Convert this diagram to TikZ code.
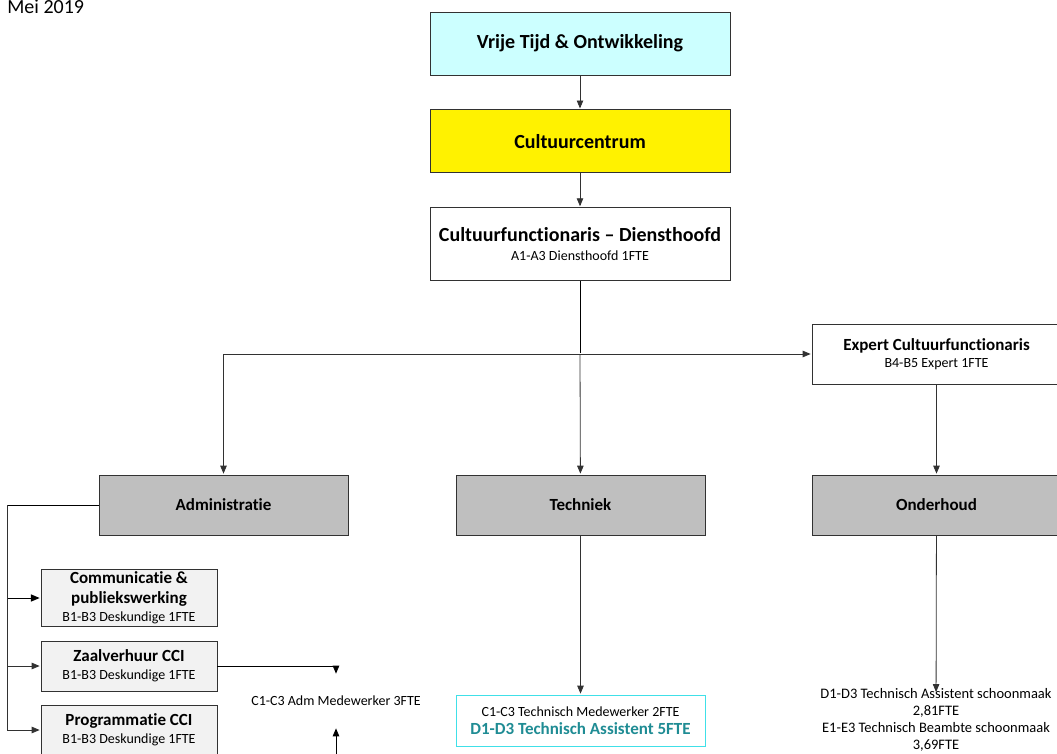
\documentclass[tikz,border=0pt]{standalone}
\usepackage{fontspec}
\setmainfont{Carlito}[Ligatures=NoCommon]
\usepackage{tikz}
\usetikzlibrary{positioning}
\usetikzlibrary{arrows}

\definecolor{lightcyan}{RGB}{204,255,255}
\definecolor{boxgray}{RGB}{191,191,191}
\definecolor{subgray}{RGB}{242,242,242}
\definecolor{brightcyan}{RGB}{64,224,232}
\definecolor{tealtext}{RGB}{31,140,148}
\definecolor{linegray}{RGB}{50,50,50}

\newcommand{\sublabel}[1]{{\fontsize{14}{17}\selectfont\mdseries #1}}

\tikzset{
  box/.style={draw=linegray, line width=0.8pt, align=center, inner sep=2pt},
  topbox/.style={box, minimum width=300pt, minimum height=63pt, font=\fontsize{20}{22}\selectfont\bfseries},
  unitbox/.style={box, fill=boxgray, minimum width=249pt, minimum height=60pt, font=\fontsize{17}{19}\selectfont\bfseries},
  subbox/.style={box, fill=subgray, minimum width=176pt, font=\fontsize{17}{20}\selectfont\bfseries},
  staff/.style={font=\fontsize{14}{17}\selectfont},
}

\begin{document}
\begin{tikzpicture}[x=1pt,y=-1pt,->,>=triangle 45,shorten >=1pt,
                    line width=0.8pt,draw=linegray]
   \clip (0,0) rectangle (1057,754);
   \useasboundingbox (0,0) rectangle (1057,754);
   \node[anchor=base west,inner sep=0pt,font=\fontsize{20}{22}\selectfont] (date) at (7,14) {Mei 2019};
   % top of the chart
   \node[topbox,fill=lightcyan] (vt) at (580,43.5) {Vrije Tijd \& Ontwikkeling};
   \node[topbox,fill=yellow] (cc) [below=34pt of vt] {Cultuurcentrum};
   \node[topbox,fill=white,minimum height=73pt] (cf) [below=34pt of cc]
        {Cultuurfunctionaris -- Diensthoofd\\[-3pt]\sublabel{A1-A3 Diensthoofd 1FTE}};
   \node[unitbox,fill=white] (expert) at (936.5,354)
        {Expert Cultuurfunctionaris\\[-2pt]\sublabel{B4-B5 Expert 1FTE}};
   % units
   \node[unitbox] (admin) at (223.5,505) {Administratie};
   \node[unitbox] (tech) at (580.5,505) {Techniek};
   \node[unitbox] (onderhoud) at (936.5,505) {Onderhoud};
   % administration
   \node[subbox,minimum height=56pt] (comm) at (129,598)
        {Communicatie \&\\publiekswerking\\[-2pt]\sublabel{B1-B3 Deskundige 1FTE}};
   \node[subbox,minimum height=50pt] (zaal) at (129,666)
        {Zaalverhuur CCI\\[-2pt]\sublabel{B1-B3 Deskundige 1FTE}};
   \node[subbox,minimum height=50pt] (prog) at (129,730)
        {Programmatie CCI\\[-2pt]\sublabel{B1-B3 Deskundige 1FTE}};
   \node[staff,minimum height=52pt] (admstaff) at (336,701) {C1-C3 Adm Medewerker 3FTE};
   % staff
   \node[box,draw=brightcyan,fill=white,minimum width=249pt,minimum height=51pt,
         font=\fontsize{17}{19}\selectfont\bfseries] (techstaff) at (580.5,720.5)
        {\sublabel{C1-C3 Technisch Medewerker 2FTE}\\[-1pt]
         \textcolor{tealtext}{D1-D3 Technisch Assistent 5FTE}};
   \node[staff,align=center,anchor=north,inner sep=0pt,font=\fontsize{14.5}{17}\selectfont] (cleanstaff) at (936,688)
        {D1-D3 Technisch Assistent schoonmaak\\2,81FTE\\E1-E3 Technisch Beambte schoonmaak\\3,69FTE};
   \coordinate (split) at (580,354);
   \coordinate (abus) at (7,505);
   \coordinate (admfoot) at (336,760);

   \draw[-,black,line width=1pt] (cf) -- (split);
   \draw (split) -| (admin);
   \draw (split) -- (tech);
   \draw (split) -- (expert);
   \path
    (vt) edge (cc)
    (cc) edge (cf)
    (expert) edge (onderhoud)
    (tech) edge (techstaff)
    (onderhoud) edge [shorten >=-4pt] (cleanstaff);
   \draw[-,black,line width=1pt] (admin) -- (abus);
   \draw[black,line width=1pt] (abus) |- (comm);
   \draw (abus) |- (zaal);
   \draw (abus) |- (prog);
   \draw[black] (zaal) -| (admstaff);
   \draw[black] (admfoot) -- (admstaff);
\end{tikzpicture}
\end{document}
